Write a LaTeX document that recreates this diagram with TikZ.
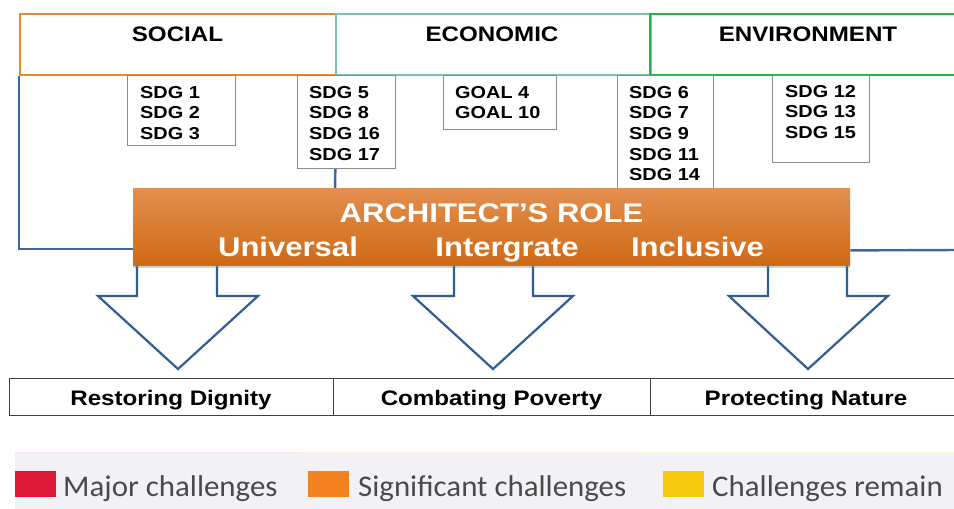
\documentclass[tikz,border=0pt]{standalone}
\usepackage{fontspec}
\setmainfont[FakeStretch=1.15]{Liberation Sans}
\newfontfamily\legendfont[FakeStretch=1.03]{Carlito}
\usetikzlibrary{shadows,calc}
\definecolor{socialc}{HTML}{E8892E}
\definecolor{econc}{HTML}{7CC2A5}
\definecolor{envc}{HTML}{27B34B}
\definecolor{bluec}{HTML}{3D67A0}
\definecolor{arrowc}{HTML}{2F5D94}
\definecolor{sdgc}{HTML}{8C8C8C}
\definecolor{roletop}{HTML}{E38F50}
\definecolor{rolebot}{HTML}{CF6A14}
\definecolor{legbg}{HTML}{F2F2F6}
\definecolor{legtext}{HTML}{4A4A4A}
\definecolor{majorc}{HTML}{DC1A37}
\definecolor{signc}{HTML}{F58220}
\definecolor{remainc}{HTML}{F7C910}
\begin{document}
\begin{tikzpicture}[x=1pt,y=-1pt,
  hdrbox/.style={draw, line width=2pt, minimum height=61pt, anchor=north west, inner sep=0},
  hdrtext/.style={font=\fontsize{21}{24}\selectfont\bfseries, anchor=base, inner sep=0},
  sdgbox/.style={draw=sdgc, line width=1.1pt, fill=white, anchor=north west, inner sep=0},
  sdgtext/.style={font=\fontsize{17.3}{20.6}\selectfont\bfseries, align=left, anchor=north west, inner sep=0},
  rolebox/.style={anchor=north west, inner sep=0, top color=roletop, bottom color=rolebot,
     drop shadow={opacity=0.35, shadow xshift=0pt, shadow yshift=-3pt}},
  roletext/.style={font=\fontsize{27}{30}\selectfont\bfseries, text=white, anchor=base, inner sep=0},
  blueline/.style={draw=bluec, line width=2.4pt},
  blockarrow/.style={draw=arrowc, line width=2.2pt, line join=miter},
  outbox/.style={draw=black!75, line width=1.3pt, minimum height=37pt, anchor=north west, inner sep=0},
  outtext/.style={font=\fontsize{21}{24}\selectfont\bfseries, anchor=base, inner sep=0},
  legsq/.style={inner sep=0, minimum width=41pt, minimum height=26pt, anchor=north west},
  legtxt/.style={font=\legendfont\fontsize{30}{32}\selectfont, text=legtext, anchor=base west, inner sep=0}
]
\clip (0,0) rectangle (954,509);
\fill[white] (0,0) rectangle (954,509);

% header boxes
\node[hdrbox, draw=socialc, minimum width=316pt] (social) at (19,13) {};
\node[hdrbox, draw=econc, minimum width=315pt] (econ) at (335,13) {};
\node[hdrbox, draw=envc, minimum width=320pt] (env) at (649,13) {};
\node[hdrtext] (socialt) at (177.5,41) {SOCIAL};
\node[hdrtext] (econt) at (492,41) {ECONOMIC};
\node[hdrtext] (envt) at (808,41) {ENVIRONMENT};

\coordinate (redge) at (960,250);

% blue connectors
\draw[blueline] (social.south west) |- (133,249) coordinate (lj);
\draw[blueline] (social.south east) -- (335,190) coordinate (mj);

% SDG boxes
\node[sdgbox, minimum width=108pt, minimum height=70pt] (sdgA) at (127,75) {};
\node[sdgtext] (sdgAt) at (140,86) {SDG 1\\SDG 2\\SDG 3};
\node[sdgbox, minimum width=98pt, minimum height=93pt] (sdgB) at (297,75) {};
\node[sdgtext] (sdgBt) at (309,86) {SDG 5\\SDG 8\\SDG 16\\SDG 17};
\node[sdgbox, minimum width=113pt, minimum height=54pt] (sdgC) at (443,75) {};
\node[sdgtext] (sdgCt) at (455,86) {GOAL 4\\GOAL 10};
\node[sdgbox, minimum width=96pt, minimum height=120pt] (sdgD) at (617,75) {};
\node[sdgtext] (sdgDt) at (629,86) {SDG 6\\SDG 7\\SDG 9\\SDG 11\\SDG 14};
\node[sdgbox, minimum width=97pt, minimum height=87pt] (sdgE) at (772,75) {};
\node[sdgtext] (sdgEt) at (785,85) {SDG 12\\SDG 13\\SDG 15};

% block arrows
\draw[blockarrow] (137,262) -- (137,296) -- (98,296) -- (178,369) -- (258,296) -- (217,296) -- (217,262);
\draw[blockarrow] (454,262) -- (454,296) -- (413,296) -- (493,369) -- (573,296) -- (533,296) -- (533,262);
\draw[blockarrow] (768,262) -- (768,296) -- (729,296) -- (808,369) -- (888,296) -- (847,296) -- (847,262);

% role box
\node[rolebox, minimum width=717pt, minimum height=77pt] (role) at (133,188) {};
\draw[blueline] ([yshift=15pt]role.south east) -- (redge);
\node[roletext] (rt) at (491.5,222) {ARCHITECT’S ROLE};
\node[roletext] (ru) at (288,256) {Universal};
\node[roletext] (ri) at (507,256) {Intergrate};
\node[roletext] (rc) at (697.5,256) {Inclusive};

% outcome boxes
\node[outbox, minimum width=324pt] (o1) at (9,378) {};
\node[outbox, minimum width=317pt] (o2) at (333,378) {};
\node[outbox, minimum width=320pt] (o3) at (650,378) {};
\node[outtext] (o1t) at (171,405) {Restoring Dignity};
\node[outtext] (o2t) at (491.5,405) {Combating Poverty};
\node[outtext] (o3t) at (806,405) {Protecting Nature};

% legend
\fill[legbg] (15,452) rectangle (954,509);
\draw[majorc!12, line width=0.8pt] (15,452) -- (300,452);
\draw[signc!12, line width=0.8pt] (300,452) -- (640,452);
\draw[remainc!15, line width=0.8pt] (640,452) -- (954,452);
\node[legsq, fill=majorc] (lg1) at (15,471) {};
\node[legtxt] (lg1t) at (63,496) {Major challenges};
\node[legsq, fill=signc] (lg2) at (308,471) {};
\node[legtxt] (lg2t) at (358,496) {Significant challenges};
\node[legsq, fill=remainc] (lg3) at (663,471) {};
\node[legtxt] (lg3t) at (712,496) {Challenges remain};
\end{tikzpicture}
\end{document}
